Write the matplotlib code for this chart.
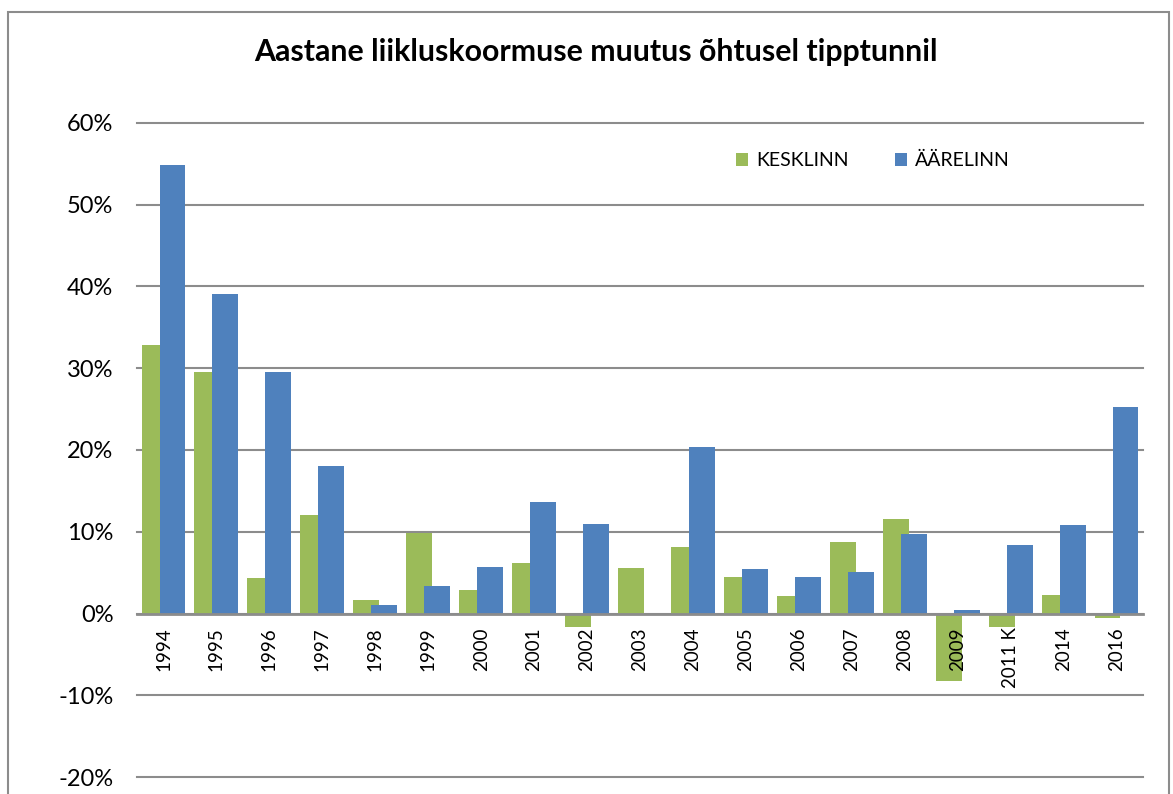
import matplotlib.pyplot as plt
import numpy as np
from matplotlib.patches import Rectangle
from matplotlib.ticker import FuncFormatter
from matplotlib.transforms import offset_copy

plt.rcParams['font.family'] = ['Lato', 'DejaVu Sans']

# ========== data ==========
years = ["1994", "1995", "1996", "1997", "1998", "1999", "2000", "2001", "2002", "2003",
         "2004", "2005", "2006", "2007", "2008", "2009", "2011 K", "2014", "2016"]
kesklinn = [32.8, 29.5, 4.3, 12.0, 1.6, 9.9, 2.9, 6.2, -1.7, 5.6,
            8.1, 4.5, 2.1, 8.8, 11.6, -8.3, -1.6, 2.3, -0.5]
aarelinn = [54.9, 39.1, 29.6, 18.1, 1.0, 3.4, 5.7, 13.7, 11.0, 0.0,
            20.4, 5.4, 4.5, 5.1, 9.7, 0.4, 8.4, 10.8, 25.3]

green = "#9BBB59"
blue = "#4F81BD"

# ========== figure ==========
fig = plt.figure(figsize=(11.73, 7.94), dpi=100)
ax = fig.add_axes([0.1168, 0.0214, 0.8576, 0.8237])

x = np.arange(len(years))
width = 0.49
ax.bar(x - 0.17, kesklinn, width, color=green, label="KESKLINN", zorder=2)
ax.bar(x + 0.17, aarelinn, width, color=blue, label="ÄÄRELINN", zorder=3)

ax.set_xlim(-0.5, len(years) - 0.5)
ax.set_ylim(-20, 60)
ax.set_yticks(np.arange(-20, 61, 10))
ax.yaxis.set_major_formatter(FuncFormatter(lambda v, p: f"{v:.0f}%"))
ax.tick_params(axis='y', length=0, pad=17, labelsize=17)

# category labels under the zero line, drawn on top of the bars
ax.set_xticks([])
lab_tr = offset_copy(ax.transData, fig=fig, y=-14, units='dots')
for i, lab in enumerate(years):
    ax.text(i, 0, lab, transform=lab_tr, rotation=90, va='top', ha='center',
            fontsize=13.5, zorder=6)

for s in ['top', 'right', 'left']:
    ax.spines[s].set_visible(False)
ax.spines['bottom'].set_position(('data', 0))
ax.spines['bottom'].set_color('#8c8c8c')
ax.spines['bottom'].set_linewidth(2)
ax.spines['bottom'].set_zorder(4)

ax.grid(axis='y', color='#8c8c8c', linewidth=1.5, zorder=0)
ax.set_axisbelow(True)
for gl in ax.get_ygridlines():
    gl.set_clip_on(False)

ax.legend(loc='center', bbox_to_anchor=(0.7316, 0.942), ncol=2, frameon=False,
          fontsize=14, handlelength=0.62, handleheight=0.62, columnspacing=2.4,
          handletextpad=0.4)

fig.text(0.508, 0.9345, "Aastane liikluskoormuse muutus õhtusel tipptunnil",
         ha='center', va='center', fontsize=21.8, fontweight='bold')

# outer chart border
fig.patches.append(Rectangle((0.0068, -0.05), 0.9898, 1.035, transform=fig.transFigure,
                             fill=False, edgecolor='#8c8c8c', linewidth=1.5))

fig.savefig("out.png", dpi=100)
